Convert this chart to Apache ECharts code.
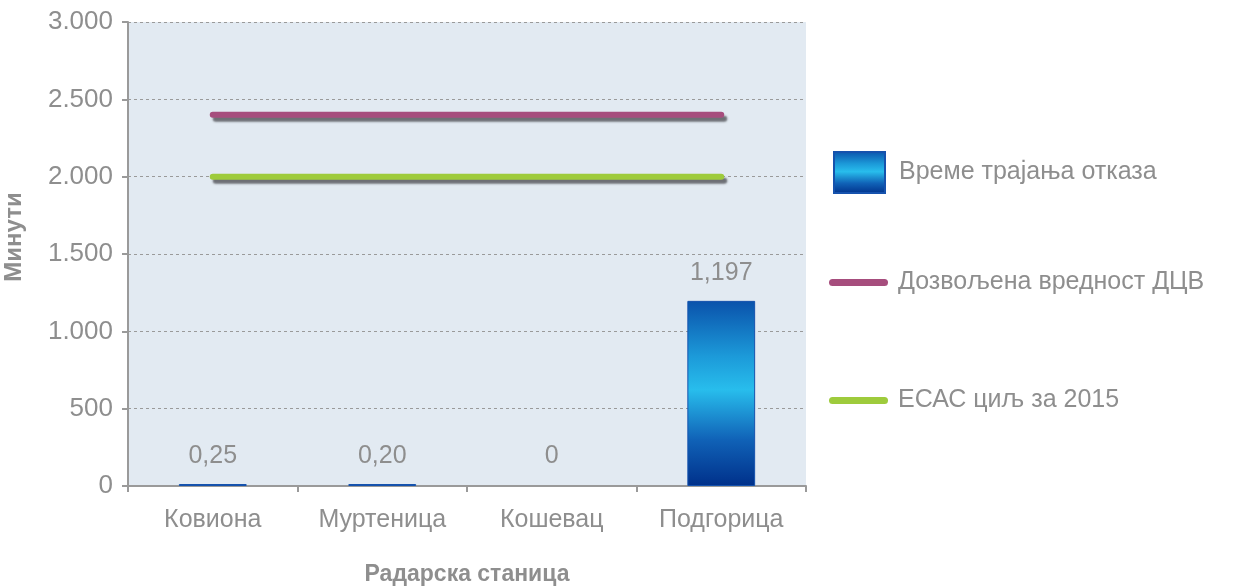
<!DOCTYPE html>
<html>
<head>
<meta charset="utf-8">
<script src="https://cdn.jsdelivr.net/npm/echarts@6/dist/echarts.min.js"></script>
<style>
  html, body { margin: 0; padding: 0; background: #fff; }
  #chart { width: 1234px; height: 588px; }
</style>
</head>
<body>
<div id="chart"></div>
<script>
// радарске станице
const stations = ["Ковиона", "Муртеница", "Кошевац", "Подгорица"];
const outageMinutes = [0.25, 0.2, 0, 1197];
const limitDcv = [2400, 2400, 2400, 2400];
const ecacTarget = [2000, 2000, 2000, 2000];
const seriesNames = ["Време трајања отказа", "Дозвољена вредност ДЦВ", "ЕСАС циљ за 2015"];

const gray = "#8e8e8e";
const axisGray = "#9a9a9a";

const barGradient = new echarts.graphic.LinearGradient(0, 0, 0, 1, [
  { offset: 0, color: "#0a52ab" },
  { offset: 0.3, color: "#1c9ad9" },
  { offset: 0.48, color: "#28bdec" },
  { offset: 0.75, color: "#1062b7" },
  { offset: 1, color: "#00308a" },
]);

const lineIcon = "path://M3.5,0 H55.5 A3.5,3.5 0 0 1 55.5,7 H3.5 A3.5,3.5 0 0 1 3.5,0 Z";

const chart = echarts.init(document.getElementById("chart"));

const option = {
  animation: false,
  textStyle: { fontFamily: "Liberation Sans, Arial, sans-serif" },
  grid: {
    left: 128,
    right: 428,
    top: 22,
    bottom: 102,
    show: true,
    backgroundColor: "#e2eaf2",
    borderWidth: 0,
    outerBoundsMode: "none",
    containLabel: false,
  },
  legend: [
    {
      left: 833,
      top: 151,
      padding: 0,
      itemWidth: 51,
      itemHeight: 41,
      selectedMode: false,
      textStyle: { color: gray, fontSize: 25, padding: [0, 0, 0, 9] },
      data: [{ name: seriesNames[0], icon: "rect" }],
    },
    {
      left: 829,
      top: 270,
      padding: 0,
      itemWidth: 59,
      itemHeight: 7,
      selectedMode: false,
      textStyle: { color: gray, fontSize: 25, padding: [0, 0, 0, 5] },
      data: [{ name: seriesNames[1], icon: lineIcon }],
    },
    {
      left: 829,
      top: 388,
      padding: 0,
      itemWidth: 59,
      itemHeight: 7,
      selectedMode: false,
      textStyle: { color: gray, fontSize: 25, padding: [0, 0, 0, 5] },
      data: [{ name: seriesNames[2], icon: lineIcon }],
    },
  ],
  xAxis: {
    type: "category",
    data: stations,
    name: "Радарска станица",
    nameLocation: "middle",
    nameGap: 77,
    nameTextStyle: { color: gray, fontSize: 23, fontWeight: "bold" },
    axisLine: { lineStyle: { color: axisGray, width: 2 } },
    axisTick: { show: true, length: 6, lineStyle: { color: axisGray, width: 2 } },
    axisLabel: { color: gray, fontSize: 25, margin: 22 },
  },
  yAxis: {
    type: "value",
    min: 0,
    max: 3000,
    interval: 500,
    name: "Минути",
    nameLocation: "middle",
    nameGap: 102,
    nameTextStyle: { color: gray, fontSize: 24, fontWeight: "bold", padding: [0, 0, 0, 34] },
    axisLine: { show: true, lineStyle: { color: axisGray, width: 2 } },
    axisTick: { show: true, length: 6, lineStyle: { color: axisGray, width: 2 } },
    axisLabel: {
      color: gray,
      fontSize: 26,
      margin: 15,
      formatter: (v) => String(v).replace(/\B(?=(\d{3})+(?!\d))/g, "."),
    },
    splitLine: { lineStyle: { color: "#9a9a9a", type: [3, 3], width: 1 } },
  },
  series: [
    {
      name: seriesNames[0],
      type: "bar",
      barWidth: "40%",
      barMinHeight: 2,
      color: "#1a7fcf",
      itemStyle: { color: barGradient, borderColor: "#1552ad", borderWidth: 1 },
      data: outageMinutes.map((v) => (v === 0 ? { value: v, itemStyle: { color: "transparent", borderWidth: 0 } } : v)),
      label: {
        show: true,
        position: "top",
        distance: 15,
        color: gray,
        fontSize: 25,
        formatter: (p) => {
          const v = p.value;
          if (v === 0) return "0";
          if (v < 1) return v.toFixed(2).replace(".", ",");
          return v.toLocaleString("en-US");
        },
      },
    },
    {
      name: seriesNames[1],
      type: "line",
      data: limitDcv,
      color: "#a64d7d",
      showSymbol: false,
      symbol: "none",
      lineStyle: {
        width: 6,
        cap: "round",
        color: "#a64d7d",
        shadowColor: "rgba(70,70,75,0.75)",
        shadowBlur: 2,
        shadowOffsetX: 3,
        shadowOffsetY: 4,
      },
    },
    {
      name: seriesNames[2],
      type: "line",
      data: ecacTarget,
      color: "#9ecb3c",
      showSymbol: false,
      symbol: "none",
      lineStyle: {
        width: 6,
        cap: "round",
        color: "#9ecb3c",
        shadowColor: "rgba(70,70,75,0.75)",
        shadowBlur: 2,
        shadowOffsetX: 3,
        shadowOffsetY: 4,
      },
    },
  ],
};

chart.setOption(option);
</script>
</body>
</html>
